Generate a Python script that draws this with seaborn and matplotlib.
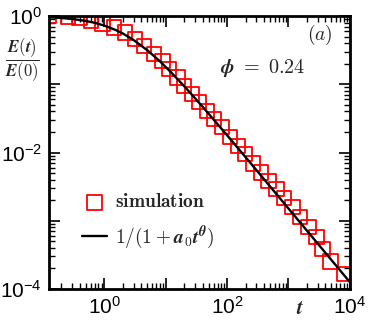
import matplotlib
matplotlib.use("Agg")
import matplotlib.pyplot as plt
import seaborn as sns
import pandas as pd
from matplotlib.font_manager import FontProperties
from matplotlib.ticker import FixedLocator, FixedFormatter, LogLocator, NullFormatter

# simulation points
t_sim = [0.125, 0.254, 0.39, 0.607, 0.935, 1.44, 2.16, 3.16, 4.43, 6.44,
         8.86, 11.3, 15.6, 19.9, 26.8, 34.8, 47.0, 61.2, 82.0, 111.0,
         150.0, 195.0, 263.0, 355.0, 470.0, 637.0, 843.0, 1170.0, 1540.0, 2120.0,
         2870.0, 3570.0, 4880.0, 7990.0]
e_sim = [1.0, 0.995, 0.951, 0.859, 0.777, 0.678, 0.573, 0.460, 0.366, 0.277,
         0.219, 0.167, 0.1255, 0.0943, 0.0720, 0.0550, 0.0406, 0.0310, 0.0236, 0.0169,
         0.01245, 0.0095, 0.0069, 0.00509, 0.00382, 0.00292, 0.00215, 0.00159, 0.00113, 0.00081,
         0.000578, 0.000385, 0.000253, 0.000165]

# fit curve 1/(1+a0 t^theta)
t_fit = [0.125, 0.2, 0.3, 0.5, 0.7, 1.0, 1.5, 2.0, 3.0, 5.0,
         8.0, 12.0, 20.0, 40.0, 100.0, 300.0, 1000.0, 3000.0, 10000.0]
e_fit = [0.961, 0.937, 0.906, 0.848, 0.795, 0.725, 0.629, 0.555, 0.445, 0.316,
         0.218, 0.152, 0.0938, 0.0467, 0.0179, 0.00553, 0.00151, 0.000462, 0.000126]

xtick_values = [1, 10, 100, 1000, 10000]
xtick_labels = [r"$10^{0}$", "", r"$10^{2}$", "", r"$10^{4}$"]
ytick_values = [1e-4, 1e-3, 1e-2, 1e-1, 1]
ytick_labels = [r"$10^{-4}$", "", r"$10^{-2}$", "", r"$10^{0}$"]

sns.set_theme(style="ticks")
plt.rcParams["font.family"] = ["Liberation Sans", "DejaVu Sans"]
plt.rcParams["mathtext.fontset"] = "custom"
plt.rcParams["mathtext.rm"] = "Liberation Sans"
plt.rcParams["mathtext.it"] = "Liberation Sans"
plt.rcParams["mathtext.bf"] = "Liberation Sans:bold"

df_sim = pd.DataFrame({"t": t_sim, "E": e_sim})
df_fit = pd.DataFrame({"t": t_fit, "E": e_fit})

fig = plt.figure(figsize=(3.71, 3.28), dpi=100)
ax = fig.add_axes([0.132, 0.119, 0.811, 0.832])

sns.scatterplot(data=df_sim, x="t", y="E", marker="s", s=110, color="red",
                facecolor="none", edgecolor="red", linewidth=1.3,
                label=r"$\mathbf{simulation}$", ax=ax)
sns.lineplot(data=df_fit, x="t", y="E", color="black", linewidth=1.7,
             label=r"$\mathbf{1/(1+}\boldsymbol{a}_{\mathbf{0}}\boldsymbol{t}^{\boldsymbol{\theta}}\mathbf{)}$",
             ax=ax)

ax.set_xscale("log")
ax.set_yscale("log")
ax.set_xlim(0.125, 1e4)
ax.set_ylim(1e-4, 1.0)

ax.xaxis.set_major_locator(FixedLocator(xtick_values))
ax.xaxis.set_major_formatter(FixedFormatter(xtick_labels))
ax.yaxis.set_major_locator(FixedLocator(ytick_values))
ax.yaxis.set_major_formatter(FixedFormatter(ytick_labels))
ax.xaxis.set_minor_locator(LogLocator(base=10, subs=range(2, 10), numticks=20))
ax.yaxis.set_minor_locator(LogLocator(base=10, subs=range(2, 10), numticks=20))
ax.xaxis.set_minor_formatter(NullFormatter())
ax.yaxis.set_minor_formatter(NullFormatter())

ax.tick_params(which="both", direction="in", top=True, right=True,
               colors="black", labelsize=15)
ax.tick_params(which="major", length=8, width=1.2, pad=5)
ax.tick_params(which="minor", length=4, width=1.0)
for sp in ax.spines.values():
    sp.set_linewidth(2)
    sp.set_color("black")

ax.set_xlabel("")
ax.set_ylabel("")

cm = dict(math_fontfamily="cm")
frac = (r"$\dfrac{\boldsymbol{E}\mathbf{(}\boldsymbol{t}\mathbf{)}}"
        r"{\boldsymbol{E}\mathbf{(0)}}$")
fig.text(22 / 371, 1 - 60 / 328, frac,
         fontproperties=FontProperties(size=12, weight="bold", **cm), ha="center", va="center")
fig.text(300 / 371, 1 - 309 / 328, r"$\boldsymbol{t}$",
         fontproperties=FontProperties(size=15, **cm), ha="center", va="center")
ax.text(0.9, 0.93, r"$(a)$", transform=ax.transAxes,
        fontproperties=FontProperties(size=14, **cm), ha="center", va="center")
ax.text(0.71, 0.81, r"$\boldsymbol{\phi}\ \mathbf{=\ 0.24}$", transform=ax.transAxes,
        fontproperties=FontProperties(size=14.5, weight="bold", **cm), ha="center", va="center")

ax.legend(loc="center left", bbox_to_anchor=(0.052, 0.245), frameon=False,
          prop=FontProperties(size=14, **cm), handlelength=1.3,
          handletextpad=0.4, labelspacing=0.6)

fig.savefig("out.png", dpi=100)
